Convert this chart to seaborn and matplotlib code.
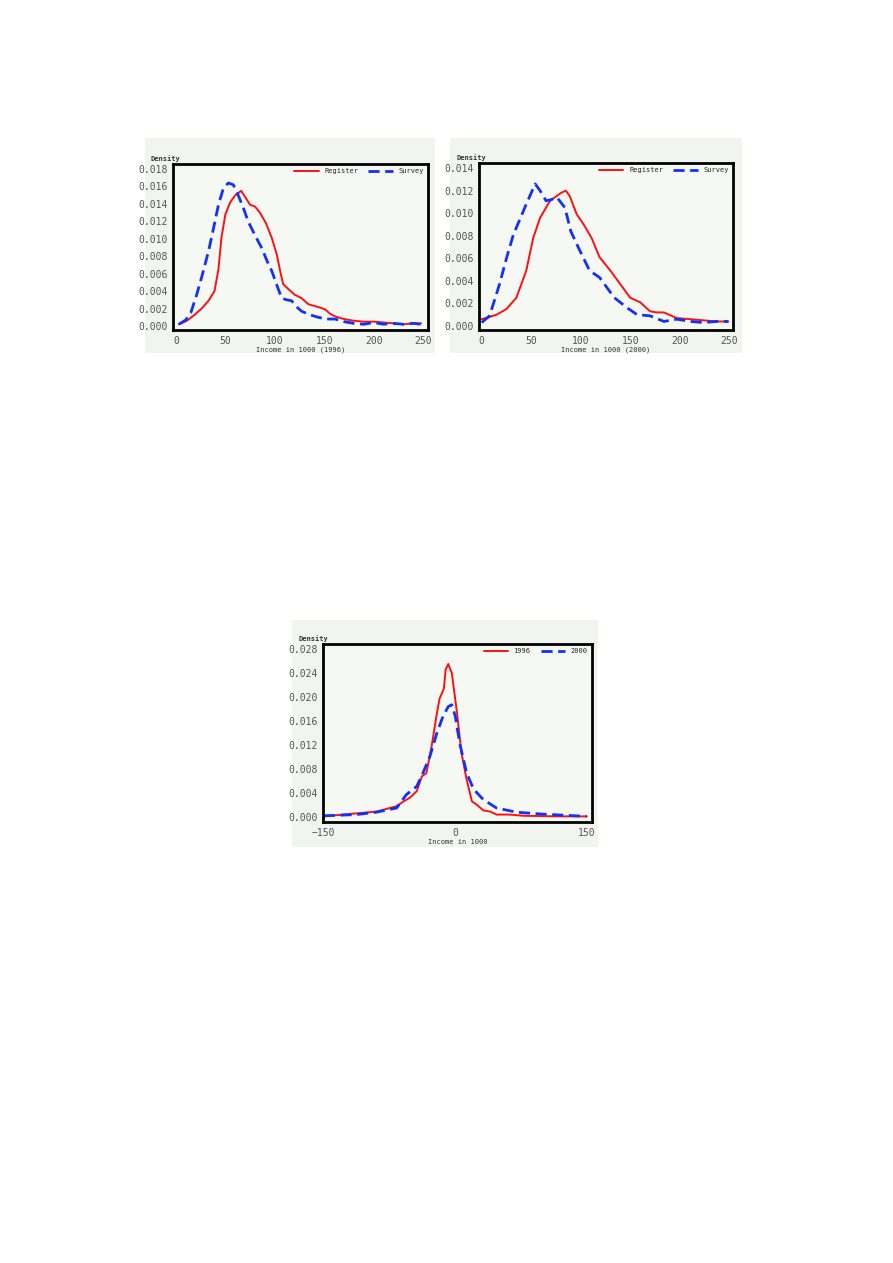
import numpy as np
import pandas as pd
import matplotlib
matplotlib.use('Agg')
import matplotlib.pyplot as plt
from matplotlib.patches import Rectangle
import seaborn as sns

# values (x in 1000, density)
reg96_x = [3, 11, 19, 26, 33, 39, 43, 46, 50, 55, 60, 66, 70, 75, 80, 85, 91, 97, 102, 106, 108.5,
           114, 120, 127, 134, 140, 146, 151, 156, 161, 170, 180, 190, 200, 210, 220, 230, 240, 248]
reg96_y = [0.0002, 0.0006, 0.0013, 0.0020, 0.0029, 0.0040, 0.0065, 0.0101, 0.0128, 0.0142, 0.0150,
           0.0155, 0.0148, 0.0139, 0.0137, 0.0130, 0.0118, 0.0101, 0.0082, 0.0060, 0.0048, 0.0042,
           0.0036, 0.0032, 0.0025, 0.0023, 0.0021, 0.0019, 0.0014, 0.0011, 0.0008, 0.0006, 0.0005,
           0.0005, 0.0004, 0.0003, 0.0002, 0.0003, 0.0003]
sur96_x = [3, 10, 15, 21, 27, 33, 38, 43, 48, 53, 58, 63, 68, 73, 80, 87, 92, 97, 102, 107,
           112, 117, 122, 127, 135, 144, 152, 161, 170, 180, 190, 200, 210, 220, 230, 240, 248]
sur96_y = [0.0002, 0.0007, 0.0015, 0.0036, 0.0060, 0.0086, 0.0112, 0.0139, 0.0158, 0.0164, 0.0162,
           0.0150, 0.0136, 0.0120, 0.0104, 0.0089, 0.0075, 0.0063, 0.0047, 0.0032, 0.0030, 0.0029,
           0.0022, 0.0017, 0.0013, 0.0010, 0.0008, 0.0008, 0.0005, 0.0003, 0.0002, 0.0004, 0.0002,
           0.0003, 0.0002, 0.0003, 0.0002]

reg00_x = [0, 8, 15, 25, 35, 45, 52, 59, 69, 80, 85, 89, 96, 103, 111, 119, 130, 140, 150,
           160, 170, 177, 184, 197, 211, 224, 237, 249]
reg00_y = [0.0006, 0.0008, 0.0010, 0.0015, 0.0025, 0.0049, 0.0078, 0.0096, 0.0111, 0.0118,
           0.0120, 0.0115, 0.0099, 0.0090, 0.0078, 0.0061, 0.0049, 0.0037, 0.0025, 0.0021,
           0.0013, 0.0012, 0.0012, 0.0007, 0.0006, 0.0005, 0.0004, 0.0004]
sur00_x = [0, 8, 18, 25, 32, 45, 54, 59, 65, 70, 76, 84, 90, 99, 109, 119, 134, 147, 157,
           170, 184, 197, 211, 224, 237, 249]
sur00_y = [0.0003, 0.0009, 0.0037, 0.0060, 0.0081, 0.0108, 0.0126, 0.0120, 0.0111, 0.0112,
           0.0114, 0.0105, 0.0084, 0.0067, 0.0049, 0.0043, 0.0025, 0.0016, 0.0010, 0.0009,
           0.0004, 0.0006, 0.0004, 0.0003, 0.0004, 0.0004]

d96_x = [-150, -113, -90, -67, -59, -52, -44, -38, -33, -27, -21, -18, -13, -11, -8, -4,
         2, 7, 13, 19, 24, 32, 40, 47, 62, 78, 116, 150]
d96_y = [0.0001, 0.0006, 0.0009, 0.0018, 0.0026, 0.0032, 0.0043, 0.0068, 0.0073, 0.0118,
         0.0173, 0.0197, 0.0214, 0.0246, 0.0255, 0.0240, 0.0173, 0.0107, 0.0062, 0.0026,
         0.0021, 0.0011, 0.0009, 0.0004, 0.0004, 0.0002, 0.0001, 0.0001]
d00_x = [-150, -113, -90, -67, -56, -44, -37, -29, -21, -14, -8, -4, 0, 5, 13, 21, 32,
         47, 70, 97, 123, 150]
d00_y = [0.0002, 0.0004, 0.0008, 0.0015, 0.0037, 0.0051, 0.0073, 0.0101, 0.0140, 0.0168,
         0.0184, 0.0187, 0.0168, 0.0123, 0.0073, 0.0046, 0.0029, 0.0015, 0.0008, 0.0005,
         0.0003, 0.0001]

sns.set_style('white')
plt.rcParams['font.family'] = ['DejaVu Sans Mono', 'DejaVu Sans']

fig = plt.figure(figsize=(8.93, 12.63), dpi=100)
bg = '#f2f4f0'

panels = [
    dict(bg=(0.1624, 0.7205, 0.3247, 0.1702), ax=(0.1937, 0.7387, 0.2856, 0.1314),
         xlim=(-3, 255), ylim=(-0.00046, 0.01857), xt=[0, 50, 100, 150, 200, 250],
         yt=np.arange(0, 0.0181, 0.002), xlabel='Income in 1000 (1996)',
         lines=[(reg96_x, reg96_y, 'Register'), (sur96_x, sur96_y, 'Survey')]),
    dict(bg=(0.5039, 0.7205, 0.3270, 0.1702), ax=(0.5364, 0.7387, 0.2844, 0.1322),
         xlim=(-2.7, 253.7), ylim=(-0.00036, 0.01445), xt=[0, 50, 100, 150, 200, 250],
         yt=np.arange(0, 0.0141, 0.002), xlabel='Income in 1000 (2000)',
         lines=[(reg00_x, reg00_y, 'Register'), (sur00_x, sur00_y, 'Survey')]),
    dict(bg=(0.3270, 0.3294, 0.3427, 0.1797), ax=(0.3617, 0.3492, 0.3012, 0.1409),
         xlim=(-151, 156), ylim=(-0.00083, 0.02883), xt=[-150, 0, 150],
         yt=np.arange(0, 0.0281, 0.004), xlabel='Income in 1000',
         lines=[(d96_x, d96_y, '1996'), (d00_x, d00_y, '2000')]),
]

for p in panels:
    fig.patches.append(Rectangle(p['bg'][:2], p['bg'][2], p['bg'][3],
                                 transform=fig.transFigure, facecolor=bg, edgecolor='none', zorder=-10))
    ax = fig.add_axes(p['ax'])
    ax.set_facecolor('#f6f8f4')
    (x1, y1, l1), (x2, y2, l2) = p['lines']
    sns.lineplot(x=x1, y=y1, ax=ax, color='#ff1010', lw=1.4, label=l1, solid_joinstyle='round')
    sns.lineplot(x=x2, y=y2, ax=ax, color='#1030ff', lw=2.0, linestyle=(0, (4, 2)), label=l2,
                 dash_joinstyle='round')
    ax.set_xlim(*p['xlim'])
    ax.set_ylim(*p['ylim'])
    ax.set_xticks(p['xt'])
    ax.set_yticks(p['yt'])
    ax.set_yticklabels([f'{v:.3f}' for v in p['yt']])
    ax.tick_params(labelsize=7, colors='#555555', length=2, width=0.6, pad=2)
    ax.set_xlabel(p['xlabel'], fontsize=5, labelpad=1, color='#333333')
    ax.set_ylabel('')
    ax.text(-0.09, 1.01, 'Density', transform=ax.transAxes, fontsize=5,
            fontweight='bold', va='bottom', ha='left', color='#333333')
    for s in ax.spines.values():
        s.set_linewidth(2.0)
        s.set_color('black')
    ax.legend(loc='upper right', frameon=False, fontsize=5, ncol=2, handlelength=3.5,
              columnspacing=1.5, borderaxespad=0.2)

fig.savefig('out.png', dpi=100)
